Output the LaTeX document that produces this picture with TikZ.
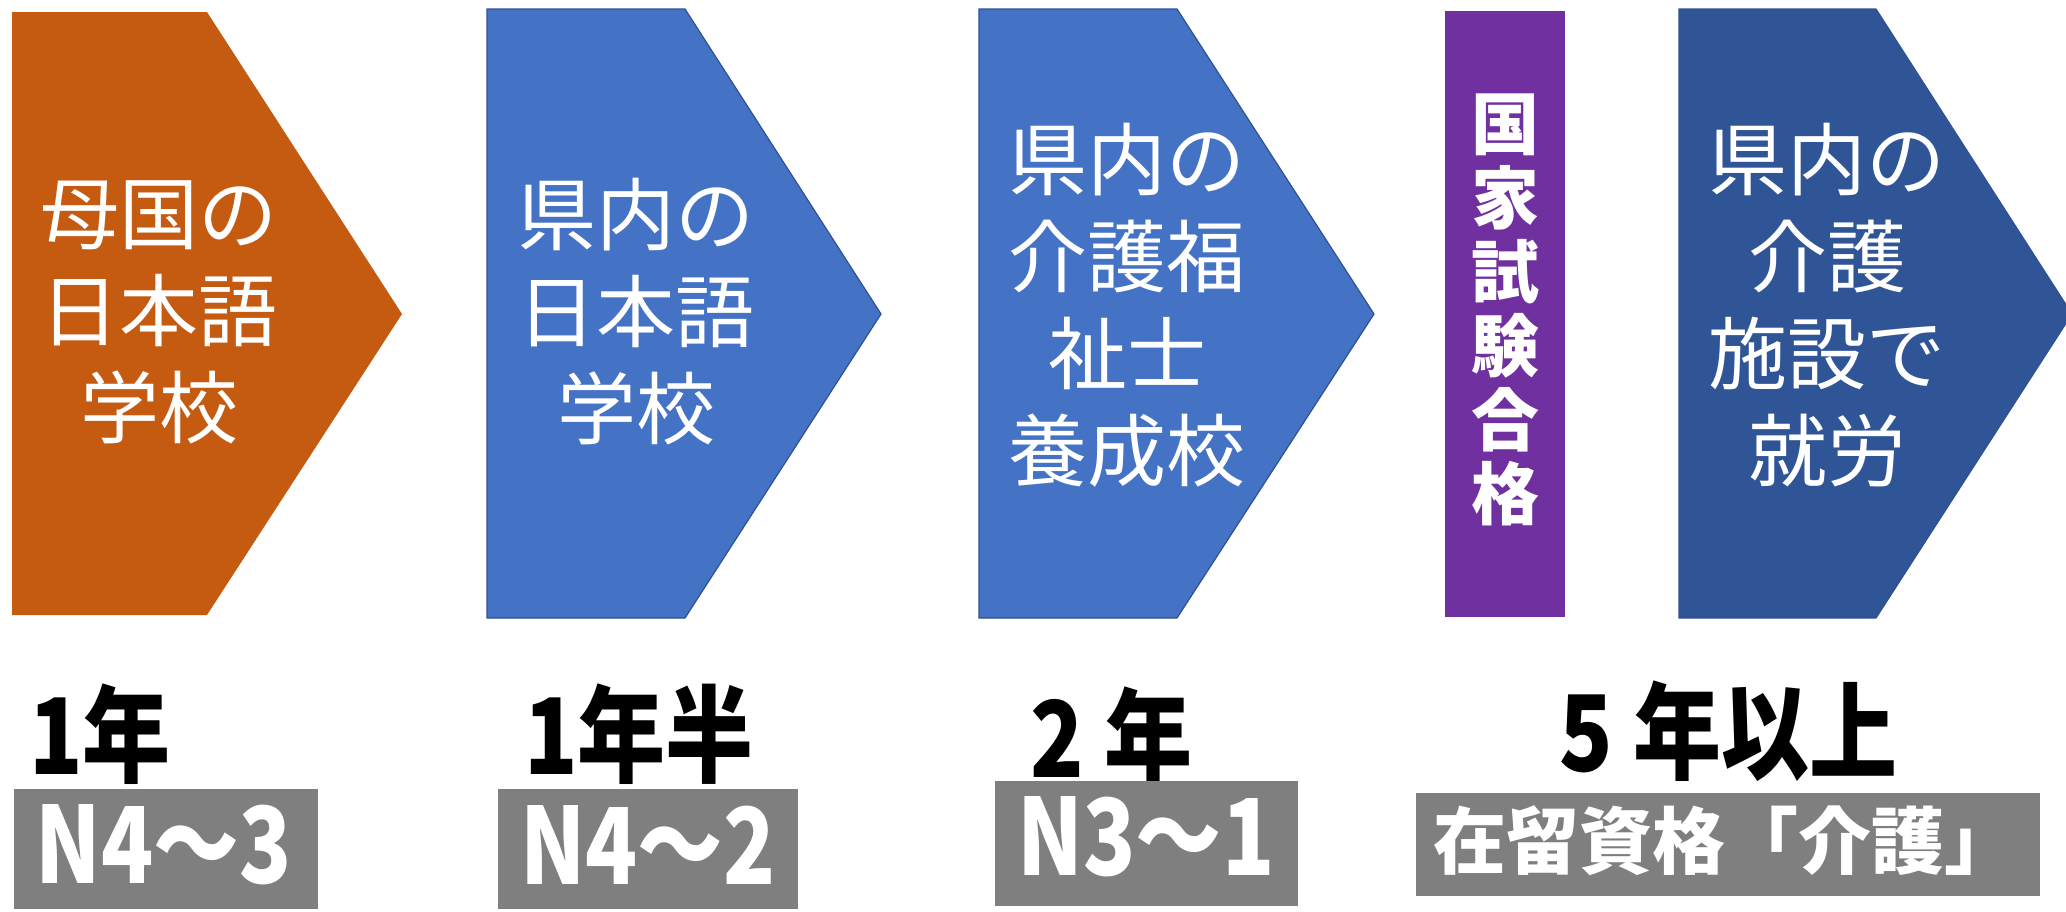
\documentclass[tikz,border=0pt]{standalone}
\usepackage{fontspec}
\usepackage{graphicx}
\newfontfamily\jp{Noto Sans CJK JP}
\definecolor{corange}{HTML}{C55A11}
\definecolor{cblue}{HTML}{4472C4}
\definecolor{cblueline}{HTML}{2F528F}
\definecolor{cpurple}{HTML}{7030A0}
\definecolor{cdark}{HTML}{2F5597}
\definecolor{cgray}{HTML}{7F7F7F}
\tikzset{
  stagetext/.style={text=white, align=center, inner sep=0pt, font=\jp\fontsize{39.5}{48.5}\selectfont},
  vtext/.style={text=white, align=center, inner sep=0pt, font=\jp\bfseries\fontsize{34}{37}\selectfont},
  yearlabel/.style={text=black, anchor=west, inner sep=0pt, font=\jp\bfseries\fontsize{44}{44}\selectfont},
  graybox/.style={fill=cgray, draw=none},
  boxtext/.style={text=white, inner sep=0pt, font=\jp\bfseries},
  bluechev/.style={fill=cblue, draw=cblueline, line width=0.6pt}
}
\newcommand{\tall}[1]{\scalebox{1}[1.2]{#1}}
\begin{document}
\begin{tikzpicture}[x=0.5pt,y=-0.5pt]
\useasboundingbox (0,0) rectangle (2066,911);
\clip (0,0) rectangle (2066,911);
% chevrons
\fill[corange] (12,12) -- (207,12) -- (402,314) -- (207,615) -- (12,615) -- cycle;
\path[bluechev] (487,9) -- (685,9) -- (881,314) -- (685,618) -- (487,618) -- cycle;
\path[bluechev] (979,9) -- (1177,9) -- (1374,314) -- (1177,618) -- (979,618) -- cycle;
\fill[cpurple] (1445,11) rectangle (1565,617);
\path[fill=cdark, draw=cblueline, line width=0.6pt] (1679,9) -- (1876,9) -- (2072,314) -- (1876,618) -- (1679,618) -- cycle;
% texts in chevrons
\node[stagetext] (t1) at (159,312) {母国の\\日本語\\学校};
\node[stagetext] (t2) at (636,312) {県内の\\日本語\\学校};
\node[stagetext] (t3) at (1127,305) {県内の\\介護福\\祉士\\養成校};
\node[vtext] (t4) at (1505,310) {国\\家\\試\\験\\合\\格};
\node[stagetext] (t5) at (1827,305) {県内の\\介護\\施設で\\就労};
% year labels
\node[yearlabel] (y1) at (29,734) {\tall{1年}};
\node[yearlabel] (y2) at (524,734) {\tall{1年半}};
\node[yearlabel] (y3) at (1030,737) {\tall{2 年}};
\node[yearlabel] (y4) at (1559,731) {\tall{5 年以上}};
% gray boxes
\fill[graybox] (14,789) rectangle (318,909);
\fill[graybox] (498,789) rectangle (798,909);
\fill[graybox] (995,781) rectangle (1298,906);
\fill[graybox] (1416,793) rectangle (2040,896);
\node[boxtext] (n1) at (164,845) {\resizebox{128pt}{39.5pt}{N4〜3}};
\node[boxtext] (n2) at (648,845) {\resizebox{127.5pt}{39.5pt}{N4〜2}};
\node[boxtext] (n3) at (1146,837) {\resizebox{128.5pt}{39.5pt}{N3〜1}};
\node[boxtext] (n4) at (1725,841) {\resizebox{292pt}{!}{在留資格「介護」}};
\end{tikzpicture}
\end{document}
